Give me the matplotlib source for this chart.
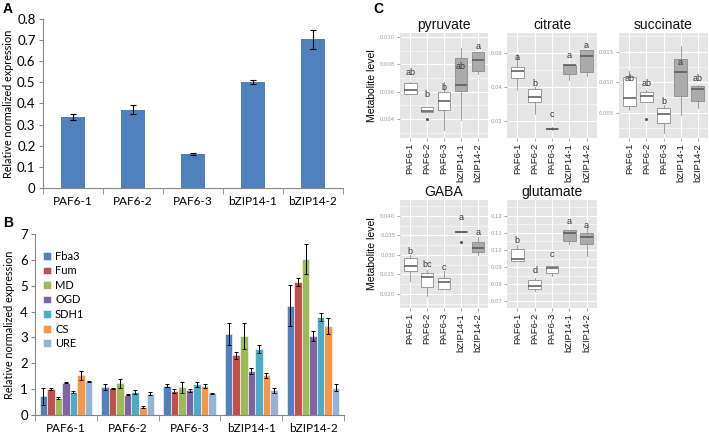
import numpy as np
import matplotlib
matplotlib.use("Agg")
import matplotlib.pyplot as plt
from matplotlib.ticker import FormatStrFormatter, FuncFormatter, MultipleLocator

# ---------------- data ----------------
lines = ["PAF6-1", "PAF6-2", "PAF6-3", "bZIP14-1", "bZIP14-2"]

# Panel A
a_values = [0.335, 0.370, 0.160, 0.502, 0.705]
a_errors = [0.013, 0.021, 0.006, 0.011, 0.045]

# Panel B
genes = ["Fba3", "Fum", "MD", "OGD", "SDH1", "CS", "URE"]
gene_colors = ["#4F81BD", "#C0504D", "#9BBB59", "#8064A2", "#4BACC6", "#F79646", "#95B3D7"]
fba3 = [0.72, 1.08, 1.14, 3.13, 4.23]
fba3_err = [0.33, 0.11, 0.05, 0.41, 0.78]
fum = [1.01, 1.03, 0.93, 2.31, 5.14]
fum_err = [0.03, 0.02, 0.08, 0.14, 0.14]
md = [0.64, 1.22, 1.08, 3.05, 6.03]
md_err = [0.04, 0.17, 0.21, 0.49, 0.58]
ogd = [1.25, 0.78, 0.95, 1.69, 3.05]
ogd_err = [0.03, 0.02, 0.07, 0.12, 0.18]
sdh1 = [0.88, 0.90, 1.18, 2.55, 3.79]
sdh1_err = [0.03, 0.07, 0.08, 0.17, 0.14]
cs = [1.53, 0.30, 1.12, 1.53, 3.44]
cs_err = [0.18, 0.04, 0.07, 0.10, 0.31]
ure = [1.30, 0.83, 0.84, 0.95, 1.06]
ure_err = [0.03, 0.05, 0.03, 0.10, 0.12]

# Panel C (box statistics: lower whisker, q1, median, q3, upper whisker, outliers)
pyruvate_lo = [0.0058, 0.00454, 0.0032, 0.0039, 0.0073]
pyruvate_q1 = [0.00583, 0.00454, 0.00467, 0.00603, 0.0075]
pyruvate_med = [0.00613, 0.00459, 0.00531, 0.00652, 0.0083]
pyruvate_q3 = [0.00664, 0.00484, 0.00595, 0.00844, 0.00891]
pyruvate_hi = [0.0067, 0.00484, 0.0067, 0.0092, 0.00891]
pyruvate_out = [[], [0.0040], [], [], []]
pyruvate_letters = ["ab", "b", "b", "ab", "a"]
pyruvate_letter_y = [0.00743, 0.00578, 0.00627, 0.00787, 0.00928]

citrate_lo = [0.038, 0.0238, 0.0146, 0.044, 0.0465]
citrate_q1 = [0.0453, 0.0308, 0.0150, 0.0473, 0.0485]
citrate_med = [0.0492, 0.0341, 0.0153, 0.0525, 0.058]
citrate_q3 = [0.0518, 0.0385, 0.0156, 0.0528, 0.0616]
citrate_hi = [0.059, 0.040, 0.0162, 0.0528, 0.0616]
citrate_out = [[], [], [], [], []]
citrate_letters = ["a", "b", "c", "a", "a"]
citrate_letter_y = [0.0571, 0.0420, 0.0238, 0.0582, 0.0641]

succinate_lo = [0.0054, 0.0067, 0.0016, 0.0047, 0.0057]
succinate_q1 = [0.0061, 0.0067, 0.00326, 0.00779, 0.00692]
succinate_med = [0.00736, 0.00779, 0.00473, 0.0117, 0.00884]
succinate_q3 = [0.0108, 0.00844, 0.00582, 0.0138, 0.00938]
succinate_hi = [0.0118, 0.0087, 0.00626, 0.0159, 0.0095]
succinate_out = [[], [0.0040], [], [], []]
succinate_letters = ["ab", "ab", "b", "a", "ab"]
succinate_letter_y = [0.01064, 0.00982, 0.0068, 0.0132, 0.01064]

gaba_lo = [0.0232, 0.0195, 0.0212, 0.0358, 0.0300]
gaba_q1 = [0.0259, 0.0219, 0.0213, 0.0358, 0.0307]
gaba_med = [0.0273, 0.0243, 0.0230, 0.0360, 0.0317]
gaba_q3 = [0.0293, 0.0255, 0.0242, 0.0362, 0.0332]
gaba_hi = [0.0300, 0.0262, 0.0259, 0.0362, 0.0347]
gaba_out = [[], [], [], [0.0332], []]
gaba_letters = ["b", "bc", "c", "a", "a"]
gaba_letter_y = [0.03085, 0.02744, 0.02685, 0.0397, 0.03572]

glutamate_lo = [0.0935, 0.0758, 0.0850, 0.1035, 0.0965]
glutamate_q1 = [0.0935, 0.0769, 0.0867, 0.1055, 0.1033]
glutamate_med = [0.0949, 0.0788, 0.0892, 0.1098, 0.1075]
glutamate_q3 = [0.1004, 0.0824, 0.0906, 0.1118, 0.1098]
glutamate_hi = [0.1030, 0.0835, 0.0906, 0.1118, 0.1133]
glutamate_out = [[], [], [], [], []]
glutamate_letters = ["b", "d", "c", "a", "a"]
glutamate_letter_y = [0.1055, 0.0882, 0.0971, 0.1166, 0.1147]

# ---------------- figure ----------------
fig = plt.figure(figsize=(7.09, 4.37), dpi=100)
W, H = 709, 437


def rect(x0, x1, y0, y1):
    return [x0 / W, 1 - y1 / H, (x1 - x0) / W, (y1 - y0) / H]


excel_font = "Lato"
axis_gray = "#868686"


def excel_axes(ax):
    for s in ["top", "right"]:
        ax.spines[s].set_visible(False)
    for s in ["left", "bottom"]:
        ax.spines[s].set_color(axis_gray)
        ax.spines[s].set_linewidth(0.8)
    n = len(lines)
    ax.set_xlim(-0.5, n - 0.5)
    ax.set_xticks(np.arange(n))
    ax.set_xticklabels(lines, fontfamily=excel_font, fontsize=8.5)
    ax.set_xticks(np.arange(n + 1) - 0.5, minor=True)
    ax.tick_params(axis="x", which="major", length=0, pad=6)
    ax.tick_params(axis="x", which="minor", length=4, color=axis_gray, direction="out")
    ax.tick_params(axis="y", length=3, color=axis_gray, labelsize=9.5, pad=2)
    for t in ax.get_yticklabels():
        t.set_fontfamily(excel_font)


# Panel A
axA = fig.add_axes(rect(42.5, 343, 19, 188))
x = np.arange(len(lines))
axA.bar(x, a_values, width=0.4, color="#4F81BD", yerr=a_errors,
        error_kw=dict(ecolor="black", elinewidth=0.8, capsize=2, capthick=0.8))
axA.set_ylim(0, 0.8)
axA.set_yticks(np.arange(0, 0.81, 0.1))
axA.yaxis.set_major_formatter(FuncFormatter(lambda v, p: f"{v:.1f}" if v > 0 else "0"))
excel_axes(axA)
axA.set_ylabel("Relative normalized expression", fontfamily=excel_font, fontsize=7.8, labelpad=2)

# Panel B
axB = fig.add_axes(rect(35, 344, 234, 415))
series = [fba3, fum, md, ogd, sdh1, cs, ure]
series_err = [fba3_err, fum_err, md_err, ogd_err, sdh1_err, cs_err, ure_err]
bw = 0.122
for i, (vals, errs) in enumerate(zip(series, series_err)):
    off = (i - 3) * bw
    axB.bar(x + off, vals, width=bw, color=gene_colors[i], edgecolor="white", linewidth=0.4,
            yerr=errs, label=genes[i],
            error_kw=dict(ecolor="black", elinewidth=0.7, capsize=1.5, capthick=0.7))
axB.set_ylim(0, 7)
axB.set_yticks(range(0, 8))
excel_axes(axB)
axB.set_ylabel("Relative normalized expression", fontfamily=excel_font, fontsize=7.8, labelpad=4)
leg = axB.legend(loc="upper left", bbox_to_anchor=(0.0, 0.95), frameon=False,
                 prop=dict(family=excel_font, size=8), handlelength=0.7, handleheight=0.7,
                 handletextpad=0.4, labelspacing=0.32, borderaxespad=0.3)

# Panel labels
fig.text(3 / W, 1 - 2 / H, "A", fontsize=10, fontweight="bold", va="top", family="Liberation Sans")
fig.text(3 / W, 1 - 216 / H, "B", fontsize=10, fontweight="bold", va="top", family="Liberation Sans")
fig.text(373 / W, 1 - 2 / H, "C", fontsize=10, fontweight="bold", va="top", family="Liberation Sans")

# Panel C
gg_font = "Liberation Sans"
box_fills = ["white", "white", "white", "#ABABAB", "#ABABAB"]


def box_panel(r, title, lo, q1, med, q3, hi, out, letters, letter_y,
              ylim, ticks, fmt, ylabel=False):
    ax = fig.add_axes(r)
    ax.set_facecolor("#E5E5E5")
    pos = np.arange(1, 6)
    stats = []
    for i in range(5):
        stats.append(dict(med=med[i], q1=q1[i], q3=q3[i], whislo=lo[i], whishi=hi[i],
                          fliers=out[i], label=lines[i]))
    res = ax.bxp(stats, positions=pos, widths=0.75, patch_artist=True, showcaps=False,
                 boxprops=dict(edgecolor="#8C8C8C", linewidth=0.6),
                 whiskerprops=dict(color="#8C8C8C", linewidth=0.6),
                 medianprops=dict(color="#555555", linewidth=1.1),
                 flierprops=dict(marker="o", markersize=1.2, markerfacecolor="#555555",
                                 markeredgecolor="#555555"), zorder=3)
    for patch, c in zip(res["boxes"], box_fills):
        patch.set_facecolor(c)
    for i in range(5):
        ax.text(pos[i], letter_y[i], letters[i], ha="center", va="center", fontsize=6.5,
                color="#333333", family=gg_font, zorder=4)
    ax.set_xlim(0.4, 5.6)
    ax.set_ylim(*ylim)
    ax.set_yticks(ticks)
    step = ticks[1] - ticks[0]
    ax.yaxis.set_minor_locator(MultipleLocator(step / 2))
    ax.yaxis.set_major_formatter(FormatStrFormatter(fmt))
    ax.set_xticks(pos)
    ax.set_xticklabels(lines, rotation=90, fontsize=6.8, family=gg_font, color="#1A1A1A")
    ax.grid(True, which="major", color="white", linewidth=0.8, zorder=0)
    ax.grid(True, which="minor", axis="y", color="white", linewidth=0.4, zorder=0)
    ax.set_axisbelow(True)
    for s in ax.spines.values():
        s.set_visible(False)
    ax.tick_params(axis="both", which="major", length=2, color="#7F7F7F", width=0.5, pad=1.5)
    ax.tick_params(axis="y", which="major", labelsize=3.8, labelcolor="#9A9A9A")
    ax.tick_params(axis="y", which="minor", length=0)
    ax.set_title(title, fontsize=10, family=gg_font, pad=3, color="#111111")
    if ylabel:
        ax.set_ylabel("Metabolite level", fontsize=7.5, family=gg_font, labelpad=2)
    return ax


box_panel(rect(400, 488, 33, 138), "pyruvate", pyruvate_lo, pyruvate_q1, pyruvate_med,
          pyruvate_q3, pyruvate_hi, pyruvate_out, pyruvate_letters, pyruvate_letter_y,
          (0.0026, 0.0103), [0.004, 0.006, 0.008, 0.010], "%.3f", ylabel=True)
box_panel(rect(507, 597, 33, 138), "citrate", citrate_lo, citrate_q1, citrate_med,
          citrate_q3, citrate_hi, citrate_out, citrate_letters, citrate_letter_y,
          (0.0098, 0.0716), [0.02, 0.04, 0.06], "%.2f")
box_panel(rect(619, 708, 33, 138), "succinate", succinate_lo, succinate_q1, succinate_med,
          succinate_q3, succinate_hi, succinate_out, succinate_letters, succinate_letter_y,
          (0.00085, 0.01807), [0.005, 0.010, 0.015], "%.3f")
box_panel(rect(400, 488, 200, 308), "GABA", gaba_lo, gaba_q1, gaba_med,
          gaba_q3, gaba_hi, gaba_out, gaba_letters, gaba_letter_y,
          (0.0164, 0.0441), [0.020, 0.025, 0.030, 0.035, 0.040], "%.3f", ylabel=True)
box_panel(rect(507, 597, 200, 308), "glutamate", glutamate_lo, glutamate_q1, glutamate_med,
          glutamate_q3, glutamate_hi, glutamate_out, glutamate_letters, glutamate_letter_y,
          (0.0659, 0.1294), [0.07, 0.08, 0.09, 0.10, 0.11, 0.12], "%.2f")

fig.savefig("out.png", dpi=100)
